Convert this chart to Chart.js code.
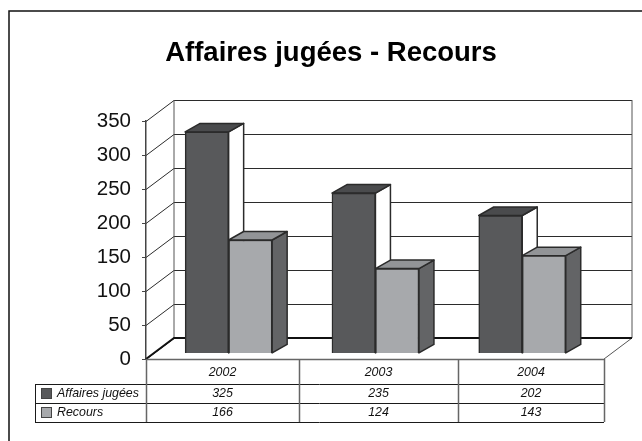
<!DOCTYPE html>
<html>
<head>
<meta charset="utf-8">
<script src="https://cdn.jsdelivr.net/npm/chart.js@4/dist/chart.umd.js"></script>
<style>
  html, body { margin: 0; padding: 0; background: #fff; }
  #wrap { width: 642px; height: 441px; }
</style>
</head>
<body>
<div id="wrap"><canvas id="myChart" width="642" height="441"></canvas></div>
<script>
const years = ['2002', '2003', '2004'];
const affaires = [325, 235, 202];
const recours = [166, 124, 143];
const yTicks = [0, 50, 100, 150, 200, 250, 300, 350];

// depth of the floor and of the bars, in pixels
const wallDx = 28, wallDy = 21;
const barDx = 15, barDy = 8.5;
const tableCols = [146, 299, 458, 604];
const tableRows = [359, 384, 403, 422];
const tableLeft = 35;

const lineColor = '#2b2b2b';
const darkBar = '#58595b', lightBar = '#a7a9ac';

// walls, floor, grid and the sides/tops of the bars, all behind the bar fronts
const wallsPlugin = {
  id: 'walls',
  beforeDatasetsDraw(chart) {
    const c = chart.ctx, a = chart.chartArea, y = chart.scales.y;
    c.save();
    c.strokeStyle = lineColor;
    c.lineWidth = 1;
    yTicks.forEach(function (t) {
      const py = Math.round(y.getPixelForValue(t)) + 0.5;
      c.beginPath();
      c.moveTo(a.left, py);
      c.lineTo(a.left + wallDx, py - wallDy);
      if (t > 0) c.lineTo(a.right + wallDx, py - wallDy);
      c.stroke();
    });
    // back wall edges
    c.strokeStyle = '#555';
    c.beginPath();
    c.moveTo(a.left + wallDx, a.top - wallDy);
    c.lineTo(a.left + wallDx, a.bottom - wallDy);
    c.moveTo(a.right + wallDx, a.top - wallDy);
    c.lineTo(a.right + wallDx, a.bottom - wallDy);
    c.lineTo(a.right, a.bottom);
    c.stroke();
    c.lineWidth = 2;
    c.strokeStyle = '#111';
    c.beginPath();
    c.moveTo(a.left, a.bottom);
    c.lineTo(a.left + wallDx, a.bottom - wallDy);
    c.lineTo(a.right + wallDx, a.bottom - wallDy);
    c.stroke();

    c.strokeStyle = lineColor;
    c.lineWidth = 1.5;
    c.lineJoin = 'round';
    chart.data.datasets.forEach(function (ds, i) {
      chart.getDatasetMeta(i).data.forEach(function (bar) {
        const p = bar.getProps(['x', 'y', 'base', 'width'], true);
        const l = p.x - p.width / 2, r = p.x + p.width / 2;
        c.fillStyle = ds.sideColor;
        c.beginPath();
        c.moveTo(r, p.y);
        c.lineTo(r + barDx, p.y - barDy);
        c.lineTo(r + barDx, p.base - barDy);
        c.lineTo(r, p.base);
        c.closePath();
        c.fill();
        c.stroke();
        c.fillStyle = ds.topColor;
        c.beginPath();
        c.moveTo(l, p.y);
        c.lineTo(l + barDx, p.y - barDy);
        c.lineTo(r + barDx, p.y - barDy);
        c.lineTo(r, p.y);
        c.closePath();
        c.fill();
        c.stroke();
      });
    });
    c.restore();
  }
};

// data table under the chart, and the frame (top and left only)
const tablePlugin = {
  id: 'dataTable',
  afterDraw(chart) {
    const c = chart.ctx;
    const rows = tableRows, cols = tableCols, right = cols[cols.length - 1];
    c.save();
    c.strokeStyle = '#111';
    c.lineWidth = 1.5;
    c.beginPath();
    c.moveTo(642, 11);
    c.lineTo(9, 11);
    c.lineTo(9, 441);
    c.stroke();

    c.strokeStyle = '#1a1a1a';
    c.lineWidth = 1;
    c.beginPath();
    for (let i = 1; i < 4; i++) {
      c.moveTo(tableLeft, rows[i] + 0.5);
      c.lineTo(right, rows[i] + 0.5);
    }
    c.moveTo(tableLeft + 0.5, rows[1]);
    c.lineTo(tableLeft + 0.5, rows[3]);
    c.stroke();

    c.strokeStyle = '#666';
    c.lineWidth = 1.5;
    c.beginPath();
    c.moveTo(cols[0], rows[0] + 0.5);
    c.lineTo(right, rows[0] + 0.5);
    cols.forEach(function (x) {
      c.moveTo(x + 0.5, rows[0]);
      c.lineTo(x + 0.5, rows[3]);
    });
    c.stroke();

    c.font = 'italic 12.4px "Liberation Sans", Arial, sans-serif';
    c.fillStyle = '#111';
    c.textBaseline = 'middle';
    c.textAlign = 'center';
    years.forEach(function (yr, i) {
      const mid = (cols[i] + cols[i + 1]) / 2;
      c.fillText(yr, mid, (rows[0] + rows[1]) / 2 + 1);
      chart.data.datasets.forEach(function (ds, d) {
        c.fillText(String(ds.data[i]), mid, (rows[d + 1] + rows[d + 2]) / 2);
      });
    });
    c.textAlign = 'left';
    c.lineWidth = 1;
    c.strokeStyle = '#444';
    chart.data.datasets.forEach(function (ds, d) {
      const mid = (rows[d + 1] + rows[d + 2]) / 2;
      c.fillStyle = ds.backgroundColor;
      c.fillRect(tableLeft + 6.5, mid - 5, 10, 10);
      c.strokeRect(tableLeft + 6.5, mid - 5, 10, 10);
      c.fillStyle = '#111';
      c.fillText(ds.label, tableLeft + 22, mid);
    });
    c.restore();
  }
};

const myChart = new Chart(document.getElementById('myChart'), {
  type: 'bar',
  data: {
    labels: years,
    datasets: [{
      label: 'Affaires jugées',
      data: affaires,
      backgroundColor: darkBar,
      sideColor: '#ffffff',
      topColor: '#4a4b4d',
      xAxisID: 'xBars',
      yAxisID: 'yBars'
    }, {
      label: 'Recours',
      data: recours,
      backgroundColor: lightBar,
      sideColor: '#636466',
      topColor: '#929497',
      xAxisID: 'xBars',
      yAxisID: 'yBars'
    }]
  },
  options: {
    responsive: false,
    animation: false,
    layout: { padding: { top: 37, left: 20, right: 0, bottom: 82 } },
    datasets: { bar: { borderColor: lineColor, borderWidth: 1.5, barThickness: 43.5 } },
    plugins: {
      legend: { display: false },
      tooltip: { enabled: false },
      title: {
        display: true,
        text: 'Affaires jugées - Recours',
        color: '#000',
        font: { family: '"Liberation Sans", Arial, sans-serif', size: 27.5, weight: 'bold' },
        padding: { top: 0, bottom: 51 }
      }
    },
    scales: {
      y: {
        position: 'left',
        min: 0,
        max: 350,
        afterFit(scale) { scale.width = 126; },
        afterBuildTicks(scale) { scale.ticks = yTicks.map(function (v) { return { value: v }; }); },
        border: { display: true, color: '#444', width: 1.5 },
        grid: { drawOnChartArea: false, tickLength: 4, color: '#444' },
        ticks: {
          color: '#111',
          padding: 11,
          font: { family: '"Liberation Sans", Arial, sans-serif', size: 20.5 }
        }
      },
      // the bars stand a little way back from the front of the floor
      yBars: {
        position: 'right',
        min: -9,
        max: 341,
        afterFit(scale) { scale.width = 38; },
        border: { display: false },
        grid: { display: false },
        ticks: { display: false }
      },
      xBars: { type: 'linear', display: false, offset: false, position: 'bottom', min: 2001.437, max: 2004.557 }
    }
  },
  plugins: [wallsPlugin, tablePlugin]
});
</script>
</body>
</html>
